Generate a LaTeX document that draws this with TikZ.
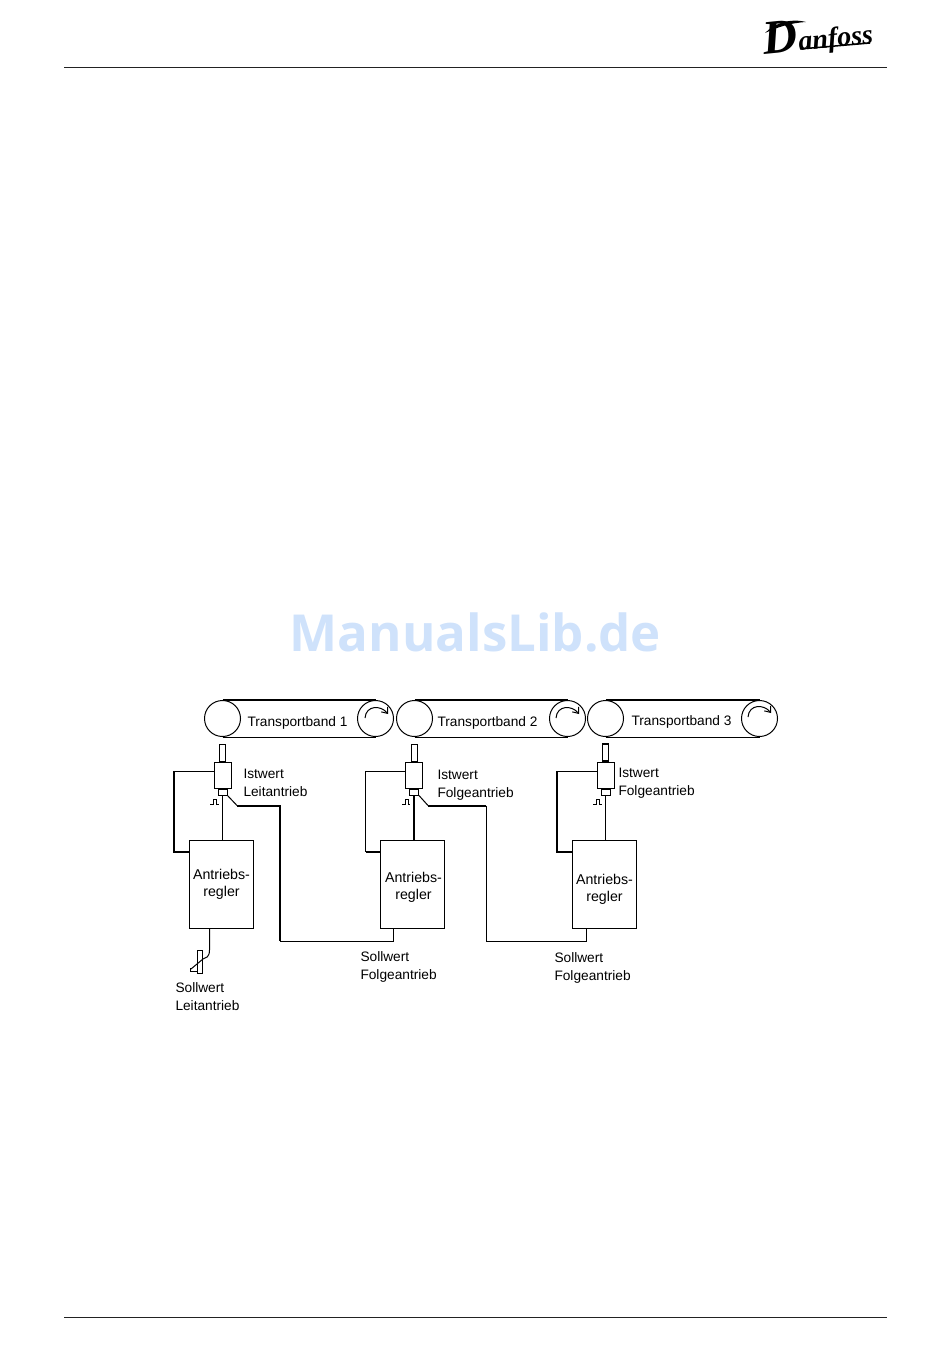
\documentclass[tikz,border=0pt]{standalone}
\usepackage{fontspec}
\setmainfont{Liberation Sans}
\newfontfamily\markfont{Open Sans}
\newfontfamily\logofont{Liberation Serif}
\usepackage{xcolor}
\usetikzlibrary{arrows.meta}
\definecolor{rulegray}{HTML}{222222}
\definecolor{markblue}{HTML}{CFE2FB}
\tikzset{
  pulley/.style={circle, draw, minimum size=36pt, inner sep=0pt},
  regler/.style={rectangle, draw, minimum width=64pt, minimum height=88pt, inner sep=0pt},
  gehaeuse/.style={rectangle, draw, minimum width=17pt, minimum height=26pt, inner sep=0pt},
  welle/.style={rectangle, draw, minimum width=6pt, minimum height=17pt, inner sep=0pt},
  stecker/.style={rectangle, draw, minimum width=9pt, minimum height=6pt, inner sep=0pt},
  beschriftung/.style={align=left, anchor=west, inner sep=0pt, font=\fontsize{13.7}{18}\selectfont},
  reglertext/.style={align=center, inner sep=0pt, font=\fontsize{14.2}{17}\selectfont},
  fett/.style={line width=2pt},
  duenn/.style={line width=1pt},
  drehung/.style={line width=1pt, -{Straight Barb[length=5pt,width=8pt]}}
}
\begin{document}
\begin{tikzpicture}[x=1pt, y=-1pt, line width=1pt]
\useasboundingbox (0,0) rectangle (950,1370);
% page head and foot
\coordinate (headL) at (64,67.5);
\coordinate (headR) at (887,67.5);
\coordinate (footL) at (64,1317.5);
\coordinate (footR) at (887,1317.5);
\draw[rulegray] (headL) -- (headR);
\draw[rulegray] (footL) -- (footR);
% logo
\node[inner sep=0pt, rotate=6, font=\logofont\bfseries\itshape\fontsize{28}{28}\selectfont] (logo) at (818,36) {{\fontsize{48}{48}\selectfont D}anfoss};
\fill (765,33) .. controls (775,23) and (790,18) .. (806,22) .. controls (790,23) and (778,27) .. (765,33);
\draw[line width=1.5pt] (800,49) -- (870,43);
% watermark
\node[inner sep=0pt, text=markblue, font=\markfont\bfseries\fontsize{51}{51}\selectfont] (mark) at (475.5,632) {ManualsLib.de};
% transport belts
\node[pulley] (rolleA1) at (222.5,718.5) {};
\node[pulley] (rolleB1) at (375.5,718.5) {};
\node[pulley] (rolleA2) at (414.5,718.5) {};
\node[pulley] (rolleB2) at (567.5,718.5) {};
\node[pulley] (rolleA3) at (605.5,718.5) {};
\node[pulley] (rolleB3) at (759.5,718.5) {};
\draw[fett] (rolleA1.north) -- (rolleB1.north);
\draw[duenn] (rolleA1.south) -- (rolleB1.south);
\draw[fett] (rolleA2.north) -- (rolleB2.north);
\draw[duenn] (rolleA2.south) -- (rolleB2.south);
\draw[fett] (rolleA3.north) -- (rolleB3.north);
\draw[duenn] (rolleA3.south) -- (rolleB3.south);
\node[beschriftung] (band1) at (247,722.5) {Transportband 1};
\node[beschriftung] (band2) at (437,722.5) {Transportband 2};
\node[beschriftung] (band3) at (631,721.5) {Transportband 3};
\draw[drehung] (365,718) .. controls (366,705) and (381,705) .. (388,714);
\draw[drehung] (556,718) .. controls (557,705) and (572,705) .. (579,714);
\draw[drehung] (748,717) .. controls (749,704) and (764,704) .. (771,713);
% sensors
\node[gehaeuse] (geber1) at (222.5,775) {};
\node[gehaeuse] (geber2) at (414,775) {};
\node[gehaeuse] (geber3) at (605.5,775) {};
\node[welle, above=0pt] (welle1) at (geber1.north) {};
\node[welle, above=0pt] (welle2) at (geber2.north) {};
\node[welle, above=0pt, line width=1.4pt] (welle3) at (geber3.north) {};
\node[stecker, below=0pt] (stecker1) at (geber1.south) {};
\node[stecker, below=0pt] (stecker2) at (geber2.south) {};
\node[stecker, below=0pt] (stecker3) at (geber3.south) {};
% controllers
\node[regler] (regler1) at (221.5,884) {};
\node[regler] (regler2) at (412.7,884) {};
\node[regler] (regler3) at (604.5,884) {};
\node[reglertext] (text1) at (221.5,884) {Antriebs-\\regler};
\node[reglertext] (text2) at (413.5,887) {Antriebs-\\regler};
\node[reglertext] (text3) at (604.5,889) {Antriebs-\\regler};
% feedback wires
\coordinate (linksA1) at (174,771);
\coordinate (linksB1) at (174,852);
\coordinate (linksC1) at (189,852);
\coordinate (linksA2) at (365.5,771);
\coordinate (linksB2) at (365.5,852);
\coordinate (linksC2) at (381,852);
\coordinate (linksA3) at (557,771);
\coordinate (linksB3) at (557,852);
\coordinate (linksC3) at (572,852);
\draw[duenn] ([yshift=4pt]geber1.west) -- (linksA1);
\draw[fett] (linksA1) -- (linksB1) -- (linksC1);
\draw[duenn] ([yshift=4pt]geber2.west) -- (linksA2) -- (linksB2);
\draw[fett] (linksB2) -- (linksC2);
\draw[duenn] ([yshift=4pt]geber3.west) -- (linksA3);
\draw[fett] (linksA3) -- (linksB3) -- (linksC3);
\draw[duenn] (stecker1.south) -- (stecker1.south |- regler1.north);
\draw[fett] (stecker2.south) -- (stecker2.south |- regler2.north);
\draw[duenn] (stecker3.south) -- (stecker3.south |- regler3.north);
% setpoint wires
\coordinate (knickA1) at (237,805.5);
\coordinate (eckeA1) at (280,805.5);
\coordinate (eckeB1) at (280,941);
\coordinate (eckeC1) at (393.5,941);
\coordinate (knickA2) at (428,805.5);
\coordinate (eckeA2) at (486,805.5);
\coordinate (eckeB2) at (486,941);
\coordinate (eckeC2) at (586,941);
\draw[duenn] (stecker1.south east) -- (knickA1);
\draw[fett] (knickA1) -- (eckeA1) -- (eckeB1);
\draw[duenn] (eckeB1) -- (eckeC1) -- (eckeC1 |- regler2.south);
\draw[duenn] (stecker2.south east) -- (knickA2);
\draw[fett] (knickA2) -- (eckeA2);
\draw[duenn] (eckeA2) -- (eckeB2) -- (eckeC2) -- (eckeC2 |- regler3.south);
% pulses
\draw[duenn] (210,804) -- ++(3,0) -- ++(0,-5) -- ++(3,0) -- ++(0,5) -- ++(3,0);
\draw[duenn] (402,804) -- ++(3,0) -- ++(0,-5) -- ++(3,0) -- ++(0,5) -- ++(2,0);
\draw[duenn] (593,804) -- ++(3,0) -- ++(0,-5) -- ++(3,0) -- ++(0,5) -- ++(3,0);
% setpoint potentiometer
\node[rectangle, draw, minimum width=5pt, minimum height=23pt, inner sep=0pt] (poti) at (199.5,961.5) {};
\draw[duenn] (regler1.south -| 209.5,0) -- (209.5,950) .. controls (209.5,957) and (206,958) .. (203,959) -- (191,969);
\draw[duenn] (190,968) -- (190,971) -- (197,971);
% labels
\node[beschriftung] (ist1) at (243,782.5) {Istwert\\Leitantrieb};
\node[beschriftung] (ist2) at (437,785.5) {Istwert\\Folgeantrieb};
\node[beschriftung] (ist3) at (618,783.5) {Istwert\\Folgeantrieb};
\node[beschriftung] (soll1) at (175,996.5) {Sollwert\\Leitantrieb};
\node[beschriftung] (soll2) at (360,966.5) {Sollwert\\Folgeantrieb};
\node[beschriftung] (soll3) at (554,967.5) {Sollwert\\Folgeantrieb};
\end{tikzpicture}
\end{document}
